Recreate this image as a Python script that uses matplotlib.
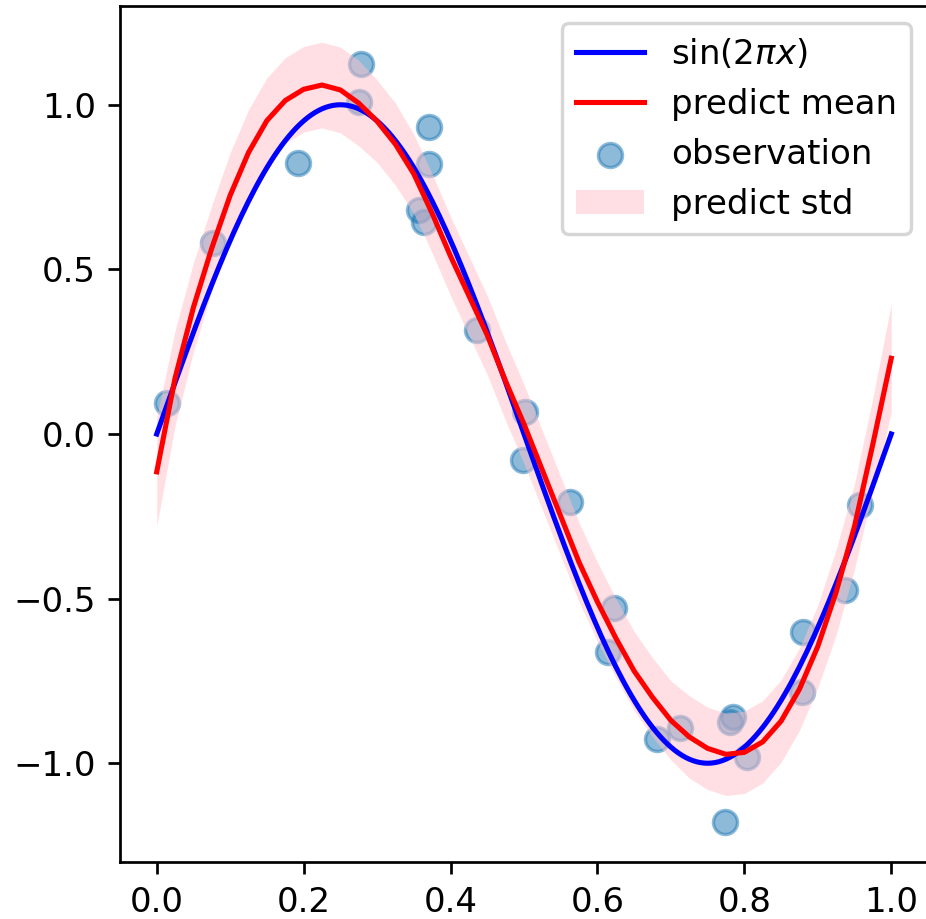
import numpy as np
import matplotlib
matplotlib.use("Agg")
import matplotlib.pyplot as plt

# grid for the model curves
x_grid = np.linspace(0, 1, 41)

# predict mean (step 0.025)
pred_mean = [
    -0.115, 0.17, 0.385, 0.565, 0.725, 0.855, 0.952, 1.013, 1.047, 1.06,
    1.045, 1.005, 0.95, 0.88, 0.79, 0.67, 0.54, 0.42, 0.30, 0.16,
    0.03, -0.11, -0.25, -0.39, -0.51, -0.62, -0.72, -0.80, -0.87, -0.92,
    -0.955, -0.973, -0.967, -0.935, -0.872, -0.775, -0.645, -0.48, -0.28, -0.03,
    0.23,
]

# predict std (half width of the pink band)
pred_std = [
    0.165, 0.145, 0.135, 0.13, 0.13, 0.13, 0.13, 0.13, 0.13, 0.13,
    0.13, 0.13, 0.125, 0.125, 0.12, 0.12, 0.12, 0.12, 0.12, 0.12,
    0.12, 0.12, 0.12, 0.12, 0.12, 0.12, 0.12, 0.12, 0.12, 0.125,
    0.125, 0.125, 0.125, 0.125, 0.125, 0.125, 0.125, 0.13, 0.13, 0.14,
    0.165,
]

# observations
obs_x = [0.014, 0.076, 0.193, 0.278, 0.275, 0.370, 0.371, 0.357, 0.364,
         0.436, 0.502, 0.499, 0.563, 0.622, 0.958, 0.937, 0.615, 0.681,
         0.713, 0.785, 0.780, 0.803, 0.773, 0.880, 0.879]
obs_y = [0.094, 0.58, 0.824, 1.125, 1.009, 0.933, 0.821, 0.681, 0.645,
         0.316, 0.067, -0.079, -0.207, -0.529, -0.216, -0.474, -0.662, -0.925,
         -0.894, -0.86, -0.875, -0.982, -1.179, -0.601, -0.783]

x_true = np.linspace(0, 1, 201)

pred_mean = np.array(pred_mean)
pred_std = np.array(pred_std)

dpi = 245
fig = plt.figure(figsize=(926 / dpi, 919 / dpi), dpi=dpi)
ax = fig.add_axes([120 / 926, 57 / 919, 808 / 926, 856 / 919])

ax.plot(x_true, np.sin(2 * np.pi * x_true), color="b", label=r"sin$(2\pi x)$")
ax.plot(x_grid, pred_mean, color="r", label="predict mean")
ax.scatter(obs_x, obs_y, s=50, alpha=0.5, label="observation")
ax.fill_between(x_grid, pred_mean - pred_std, pred_mean + pred_std,
                color="pink", alpha=0.5, linewidth=0, label="predict std")

ax.set_xlim(-0.05, 1.05)
ax.set_ylim(-1.30, 1.30)
ax.legend(loc="upper right")

fig.savefig("out.png", dpi=dpi)
